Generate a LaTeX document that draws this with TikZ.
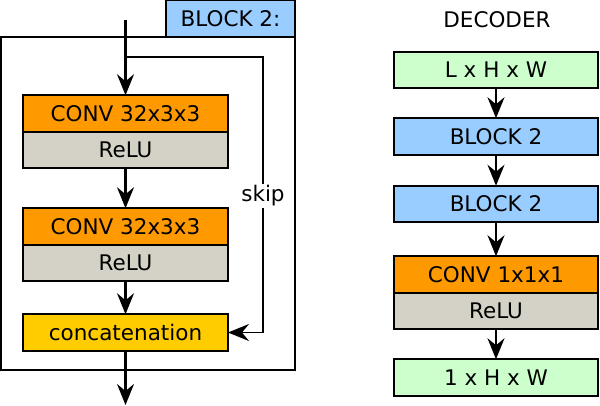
\documentclass[tikz,border=0pt]{standalone}
\usepackage{fontspec}
\setmainfont{DejaVu Sans}
\usepackage{xcolor}
\usetikzlibrary{arrows.meta,positioning,calc}

\definecolor{convorange}{RGB}{255,153,0}
\definecolor{relugray}{RGB}{212,210,198}
\definecolor{concatyellow}{RGB}{255,204,0}
\definecolor{blockblue}{RGB}{153,204,255}
\definecolor{sizegreen}{RGB}{204,255,204}

\begin{document}
\begin{tikzpicture}[
    x=1pt, y=-1pt,
    box/.style={rectangle, draw, line width=2pt, outer sep=0pt, minimum width=205pt, minimum height=36.5pt, inner sep=0pt, align=center, font=\fontsize{21.5}{24}\selectfont},
    arrow/.style={-{Stealth[length=21pt, width=17pt, inset=7pt]}, line width=2.2pt},
    skiparrow/.style={-{Stealth[length=21pt, width=17pt, inset=7pt]}, line width=1.5pt}
]
\useasboundingbox (0,0) rectangle (600,406);

% Block frame
\draw[line width=1.8pt] (1,37) rectangle (295,370);
\node[box, fill=blockblue, minimum width=129pt] (blocklbl) at (230.5,18.5) {BLOCK 2:};

% Block layers
\node[box, fill=convorange] (conv1) at (125.5,113.5) {CONV 32x3x3};
\node[box, fill=relugray, below=0pt of conv1] (relu1) {ReLU};
\node[box, fill=convorange, below=40pt of relu1] (conv2) {CONV 32x3x3};
\node[box, fill=relugray, below=0pt of conv2] (relu2) {ReLU};
\node[box, fill=concatyellow, below=33pt of relu2] (concat) {concatenation};

\coordinate (top) at (125.5,20);
\coordinate (split) at (125.5,57);
\coordinate (skipcorner) at (263,57);
\coordinate (bottom) at (125.5,405);

% Block arrows
\draw[arrow] (top) -- (conv1);
\draw[arrow] (relu1) -- (conv2);
\draw[arrow] (relu2) -- (concat);
\draw[arrow] (concat) -- (bottom);
\draw[skiparrow] (split) -- (skipcorner) |- (concat.east);
\node[fill=white, inner sep=2pt, font=\fontsize{21.5}{24}\selectfont] (skip) at (263,196) {skip};

% Decoder
\node[font=\fontsize{21.5}{24}\selectfont] (dectitle) at (497,20) {DECODER};
\node[box, fill=sizegreen, minimum width=204pt] (lhw) at (496,70) {L x H x W};
\node[box, fill=blockblue, minimum width=204pt, below=30pt of lhw] (blocka) {BLOCK 2};
\node[box, fill=blockblue, minimum width=204pt, below=31pt of blocka] (blockb) {BLOCK 2};
\node[box, fill=convorange, minimum width=204pt, below=34pt of blockb] (conv3) {CONV 1x1x1};
\node[box, fill=relugray, minimum width=204pt, below=0pt of conv3] (relu3) {ReLU};
\node[box, fill=sizegreen, minimum width=204pt, below=30pt of relu3] (ohw) {1 x H x W};

% Decoder arrows
\draw[arrow] (lhw) -- (blocka);
\draw[arrow] (blocka) -- (blockb);
\draw[arrow] (blockb) -- (conv3);
\draw[arrow] (relu3) -- (ohw);

\end{tikzpicture}
\end{document}
